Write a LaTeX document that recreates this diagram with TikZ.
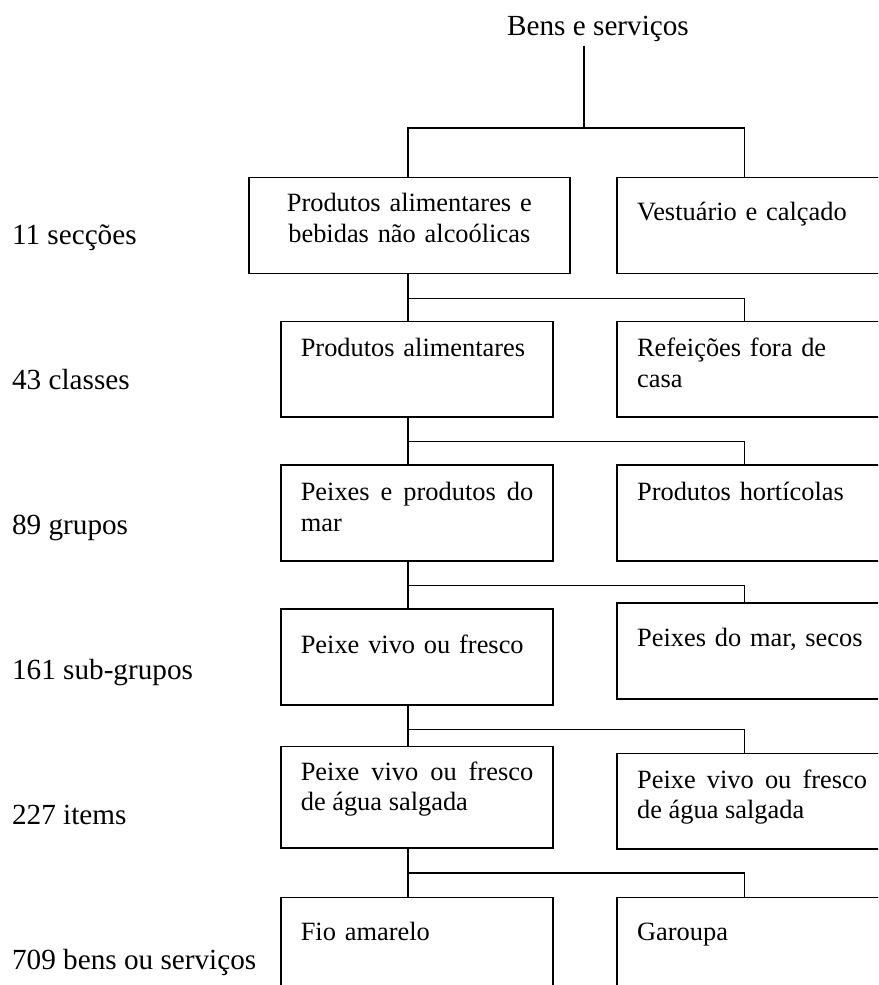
\documentclass[tikz,border=0pt]{standalone}
\usepackage{fontspec}
\setmainfont{Liberation Serif}
\newcommand\boxfont{\fontsize{13.2}{15.4}\selectfont}
\newcommand\levelfont{\fontsize{14.6}{17}\selectfont}
\tikzset{
  catbox/.style={draw, line width=0.8pt, anchor=north west, inner xsep=10pt,
    inner ysep=0pt, font=\boxfont, text width=116.2pt, align=left},
  levellabel/.style={anchor=base west, inner sep=0pt, font=\levelfont},
  tree/.style={line width=0.8pt},
}
\begin{document}
\begin{tikzpicture}[x=0.5pt, y=-0.5pt]
  \useasboundingbox (0,0) rectangle (878,985);
  \clip (0,0) rectangle (878,985);

  % Root
  \node[font=\levelfont, anchor=base, inner sep=2pt] (root) at (598,35) {Bens e serviços};
  \coordinate (rootx) at (584,0);
  \coordinate (stem)  at (408,0);
  \coordinate (rstem) at (744.5,0);
  \coordinate (j0)    at (408,127.7);

  % Level labels
  \foreach \txt [count=\i] in {11 secções, 43 classes, 89 grupos,
      161 sub-grupos, 227 items, 709 bens ou serviços}
    \node[levellabel] (lvl\i) at (11.7, 99+145*\i) {\txt};

  % Sections
  \node[catbox, text width=140.5pt, align=center, text height=17pt, text depth=31pt]
    (b1L) at (248,176.7) {Produtos alimentares e\\bebidas não alcoólicas};
  \node[catbox, text width=115pt, text height=21.65pt, text depth=26.35pt]
    (b1R) at (616.3,176.7) {Vestuário e calçado};

  % Classes
  \node[catbox, text height=17.65pt, text depth=30pt]
    (b2L) at (280,320.7) {Produtos alimentares};
  \node[catbox, text width=115pt, text height=17.65pt, text depth=30pt]
    (b2R) at (616.3,320.7) {Refeições fora de\\casa};

  % Groups
  \node[catbox, align=justify, text height=17.85pt, text depth=30pt]
    (b3L) at (280,464.3) {Peixes e produtos do\linebreak mar};
  \node[catbox, text width=115pt, text height=17.85pt, text depth=30pt]
    (b3R) at (616.3,464.3) {Produtos hortícolas};

  % Sub-groups
  \node[catbox, text height=22.2pt, text depth=25.65pt]
    (b4L) at (280,608.3) {Peixe vivo ou fresco};
  \node[catbox, text width=115pt, text height=21.85pt, text depth=26.15pt]
    (b4R) at (616.3,602.3) {Peixes do mar, secos};

  % Items
  \node[catbox, align=justify, text height=16.8pt, text depth=34pt]
    (b5L) at (280,745.7) {Peixe vivo ou fresco\linebreak de água salgada};
  \node[catbox, text width=115pt, align=justify, text height=17.3pt, text depth=30.5pt]
    (b5R) at (616.3,752.7) {Peixe vivo ou fresco\linebreak de água salgada};

  % Goods and services
  \node[catbox, text height=21.65pt, text depth=40pt]
    (b6L) at (280,896.7) {Fio amarelo};
  \node[catbox, text width=115pt, text height=21.65pt, text depth=40pt]
    (b6R) at (616.3,896.7) {Garoupa};

  % Connectors
  \draw[tree] (root.south -| rootx) -- (rootx |- j0);
  \draw[tree] (b1L.north -| stem) -- (j0) -| (b1R.north -| rstem);
  \foreach \up/\dl/\dr [count=\i] in {b1L/b2L/b2R, b2L/b3L/b3R, b3L/b4L/b4R,
      b4L/b5L/b5R, b5L/b6L/b6R}{
    \draw[tree] (\up.south -| stem) -- (\dl.north -| stem);
    \path (\up.south -| stem) ++(0,24) coordinate (j\i);
    \draw[tree] (j\i) -| (\dr.north -| rstem);
  }
\end{tikzpicture}
\end{document}
